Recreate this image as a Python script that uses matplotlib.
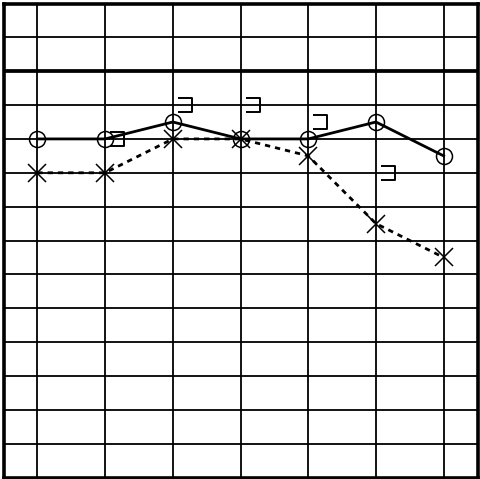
import matplotlib
matplotlib.use("Agg")
import matplotlib.pyplot as plt
import matplotlib.transforms as mtransforms
from matplotlib.path import Path
import numpy as np

# Audiogram data
frequencies = ["125", "250", "500", "1000", "2000", "4000", "8000"]
right_ac = [20, 20, 15, 20, 20, 15, 25]      # O, solid
left_ac = [30, 30, 20, 20, 25, 45, 55]       # X, dashed
bc_freq_idx = [1, 2, 3, 4, 5]                # bone conduction "]" marks
bc_values = [20, 10, 10, 15, 30]
db_ticks = list(range(-20, 121, 10))

DPI = 100
fig = plt.figure(figsize=(4.80, 4.79), dpi=DPI)
W, H = 480, 479
left_px, right_px, top_px, bottom_px = 3.5, 477.5, 3.5, 477.5
ax = fig.add_axes([left_px / W, 1 - bottom_px / H,
                   (right_px - left_px) / W, (bottom_px - top_px) / H])

x = np.arange(len(frequencies))
ax.set_xlim(-0.5, len(frequencies) - 0.5)
ax.set_ylim(db_ticks[-1], db_ticks[0])

# grid
for xi in x:
    ax.axvline(xi, color="black", lw=1.3, zorder=1)
for d in db_ticks[1:-1]:
    ax.axhline(d, color="black", lw=2.7 if d == 0 else 1.3, zorder=1)

for s in ax.spines.values():
    s.set_linewidth(2.6)
    s.set_color("black")
ax.set_xticks([])
ax.set_yticks([])

# right ear (O, solid)
ax.plot(x, right_ac, color="black", lw=2.0, zorder=3,
        marker="o", markersize=11.5, markerfacecolor="none",
        markeredgewidth=1.1, markeredgecolor="black")
# left ear (X, dashed)
ax.plot(x, left_ac, color="black", lw=2.0, zorder=4,
        linestyle=(0, (1.9, 1.8)),
        marker="x", markersize=12.5, markeredgewidth=1.1,
        markeredgecolor="black")

# bone conduction bracket marks, offset to the right of the frequency line
bracket = Path([(-0.5, 0.5), (0.5, 0.5), (0.5, -0.5), (-0.5, -0.5)],
               [Path.MOVETO, Path.LINETO, Path.LINETO, Path.LINETO])
off = mtransforms.offset_copy(ax.transData, fig=fig, x=12, y=0, units="dots")
ax.plot(bc_freq_idx, bc_values, linestyle="none", marker=bracket,
        markersize=9.5, markerfacecolor="none", markeredgecolor="black",
        markeredgewidth=1.4, transform=off, zorder=5)

fig.savefig("out.png", dpi=DPI)
